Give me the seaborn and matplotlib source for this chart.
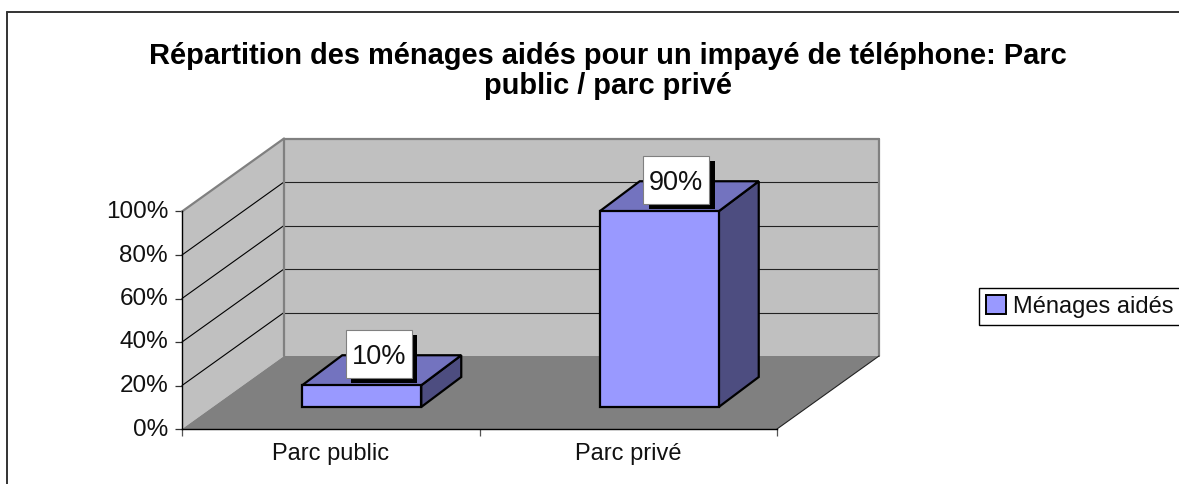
import matplotlib
matplotlib.use("Agg")
import matplotlib.pyplot as plt
import numpy as np
import pandas as pd
import seaborn as sns
from matplotlib.lines import Line2D
from matplotlib.patches import Patch, Polygon, Rectangle
from matplotlib.transforms import Affine2D, IdentityTransform

categories = ["Parc public", "Parc privé"]
values = [10, 90]
series_name = "Ménages aidés"
y_ticks = [0, 20, 40, 60, 80, 100]
title_text = "Répartition des ménages aidés pour un impayé de téléphone: Parc\npublic / parc privé"

W, H = 1179, 484
sns.set_theme(style="white")
plt.rcParams["font.family"] = ["Liberation Sans", "DejaVu Sans"]

fig = plt.figure(figsize=(W / 100, H / 100), dpi=100, facecolor="white")
ax = fig.add_axes([182 / W, (H - 429) / H, 595 / W, 217.5 / H])
ax.patch.set_visible(False)

df = pd.DataFrame({"parc": categories, "part": values})
sns.barplot(data=df, x="parc", y="part", color="#9999FF", saturation=1, width=0.4,
            edgecolor="black", linewidth=1.6, ax=ax, zorder=4)
ax.set_xlim(-0.5, 1.5)
ax.set_ylim(0, 100)
ax.set_xlabel("")
ax.set_ylabel("")

# pixel depth of the pseudo-3D projection
WALL_D = (102, 73)
BAR_SHIFT = (31, 22)
BAR_D = (40, 30)


def pt(x, y, off=(0, 0)):
    px = ax.transData.transform((x, y))
    return (px[0] + off[0], px[1] + off[1])


def poly(points, **kw):
    kw.setdefault("zorder", 1)
    p = Polygon(points, closed=True, transform=IdentityTransform(), clip_on=False, **kw)
    ax.add_patch(p)
    return p


def seg(a, b, **kw):
    ax.add_line(Line2D([a[0], b[0]], [a[1], b[1]], transform=IdentityTransform(),
                       clip_on=False, **kw))


x0, x1 = ax.get_xlim()
ymin, ymax = ax.get_ylim()
bars = [p for p in ax.patches if isinstance(p, Rectangle)]
# back wall, side wall, floor
poly([pt(x0, ymin, WALL_D), pt(x1, ymin, WALL_D), pt(x1, ymax, WALL_D), pt(x0, ymax, WALL_D)],
     facecolor="#C0C0C0", edgecolor="none")
poly([pt(x0, ymin), pt(x0, ymin, WALL_D), pt(x0, ymax, WALL_D), pt(x0, ymax)],
     facecolor="#C0C0C0", edgecolor="none")
poly([pt(x0, ymin), pt(x1, ymin), pt(x1, ymin, WALL_D), pt(x0, ymin, WALL_D)],
     facecolor="#808080", edgecolor="none")
for t in y_ticks[1:-1]:
    seg(pt(x0, t), pt(x0, t, WALL_D), color="black", lw=0.8, zorder=2)
    seg(pt(x0, t, WALL_D), pt(x1, t, WALL_D), color="#222222", lw=0.8, zorder=2)
seg(pt(x0, ymax), pt(x0, ymax, WALL_D), color="#808080", lw=1.6, zorder=2.5)
seg(pt(x0, ymax, WALL_D), pt(x1, ymax, WALL_D), color="#808080", lw=1.6, zorder=2.5)
seg(pt(x0, ymin, WALL_D), pt(x0, ymax, WALL_D), color="#808080", lw=1.6, zorder=2.5)
seg(pt(x1, ymin, WALL_D), pt(x1, ymax, WALL_D), color="#808080", lw=1.6, zorder=2.5)
seg(pt(x1, ymin), pt(x1, ymin, WALL_D), color="#222222", lw=0.8, zorder=2.5)

# bars: front faces from seaborn, shifted into the floor, then side and top faces
shift = Affine2D().translate(*BAR_SHIFT)
for bar, val in zip(bars, values):
    bar.set_transform(ax.transData + shift)
    bar.set_clip_on(False)
    xa, xb = bar.get_x(), bar.get_x() + bar.get_width()
    s = BAR_SHIFT
    sd = (BAR_SHIFT[0] + BAR_D[0], BAR_SHIFT[1] + BAR_D[1])
    poly([pt(xb, 0, s), pt(xb, 0, sd), pt(xb, val, sd), pt(xb, val, s)],
         facecolor="#4D4D80", edgecolor="black", lw=1.6, zorder=3.9, joinstyle="miter")
    poly([pt(xa, val, s), pt(xb, val, s), pt(xb, val, sd), pt(xa, val, sd)],
         facecolor="#7373BF", edgecolor="black", lw=1.6, zorder=3.9, joinstyle="miter")
    # data label box with its drop shadow
    cx, cy = pt((xa + xb) / 2, val, (sd[0] - BAR_D[0] / 2 - 3, sd[1] - BAR_D[1] / 2 + 16.5))
    bw, bh = 66, 48
    ax.add_patch(Rectangle((cx - bw / 2 + 5.5, cy - bh / 2 - 5.5), bw, bh, facecolor="black",
                           edgecolor="none", transform=IdentityTransform(), clip_on=False, zorder=5))
    ax.add_patch(Rectangle((cx - bw / 2, cy - bh / 2), bw, bh, facecolor="white",
                           edgecolor="#808080", lw=0.8, transform=IdentityTransform(),
                           clip_on=False, zorder=6))
    ax.text(cx, cy, f"{val}%", ha="center", va="center_baseline", fontsize=19.5, color="#111111",
            transform=IdentityTransform(), zorder=7)

# axes
sns.despine(ax=ax, top=True, right=True)
for side in ("left", "bottom"):
    ax.spines[side].set_color("black")
    ax.spines[side].set_linewidth(1.0)
    ax.spines[side].set_zorder(3)
ax.set_yticks(y_ticks)
ax.set_yticklabels([f"{t}%" for t in y_ticks])
ax.tick_params(axis="y", left=True, length=5, width=0.9, color="#333333", labelsize=17.5, pad=5,
               labelcolor="#111111")
ax.set_xticks([0, 1])
ax.set_xticklabels(categories)
ax.set_xticks([-0.5, 0.5, 1.5], minor=True)
ax.tick_params(axis="x", which="major", bottom=False, labelsize=17, pad=4, labelcolor="#111111")
ax.tick_params(axis="x", which="minor", bottom=True, length=5, width=0.9, color="#555555")
for lab in ax.get_yticklabels():
    lab.set_transform(lab.get_transform() + Affine2D().translate(0, 2))

# title
fig.text(608 / W, 1 - 71 / H, title_text, ha="center", va="center", fontsize=20.9, fontweight="bold",
         color="black", linespacing=1.12)

# legend running off the right edge
handles = [Patch(facecolor="#9999FF", edgecolor="black", lw=1.4, label=series_name)]
fig.legend(handles=handles, loc="upper left", bbox_to_anchor=(979 / W, 1 - 288 / H),
           borderaxespad=0, fontsize=17, frameon=True, fancybox=False, edgecolor="black",
           framealpha=1, handlelength=0.85, handleheight=0.85, handletextpad=0.3,
           borderpad=0.3, labelcolor="#111111")

# outer chart frame: only its top and left edges are in view
fig.add_artist(Line2D([6.5 / W, 6.5 / W], [0, 1 - 11.5 / H], color="#333333", lw=1.4))
fig.add_artist(Line2D([6.5 / W, 1], [1 - 11.5 / H, 1 - 11.5 / H], color="#333333", lw=1.4))

fig.savefig("out.png", dpi=100, facecolor="white")
